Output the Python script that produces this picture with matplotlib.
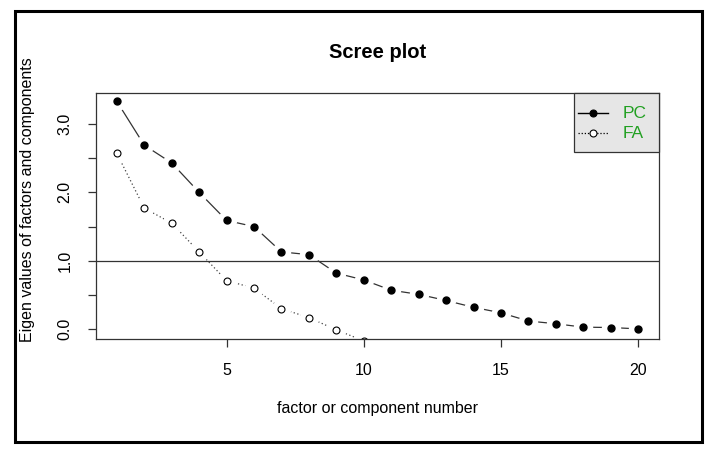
import matplotlib
matplotlib.use("Agg")
import matplotlib.pyplot as plt
from matplotlib.lines import Line2D
from matplotlib.patches import Rectangle
import numpy as np

plt.rcParams['font.family'] = ['Liberation Sans', 'DejaVu Sans']

# ---- data ----
pc_x = list(range(1, 21))
pc_values = [3.33, 2.69, 2.43, 2.00, 1.59, 1.50, 1.13, 1.09, 0.82, 0.72,
             0.57, 0.51, 0.42, 0.32, 0.24, 0.12, 0.08, 0.03, 0.025, 0.005]
fa_x = list(range(1, 11))
fa_values = [2.57, 1.77, 1.55, 1.13, 0.71, 0.60, 0.30, 0.17, -0.01, -0.17]
x_ticks = [5, 10, 15, 20]
y_ticks = [0.0, 0.5, 1.0, 1.5, 2.0, 2.5, 3.0]
y_ticklabels = ["0.0", "", "1.0", "", "2.0", "", "3.0"]
legend_labels = ["PC", "FA"]

W, H = 717, 454
fig = plt.figure(figsize=(W / 100, H / 100), dpi=100)
fig.patch.set_facecolor('white')

ax = fig.add_axes([96 / W, 1 - 339 / H, (659 - 96) / W, (339 - 93) / H])
ax.set_xlim(0.24, 20.76)
ax.set_ylim(-0.143, 3.453)

green = '#22a022'
gap_ms = 14  # white disc size to emulate R type="b" gaps

# PC: solid line with gaps
ax.plot(pc_x, pc_values, color='#333333', lw=0.9, zorder=2)
ax.plot(pc_x, pc_values, ls='none', marker='o', ms=gap_ms, mfc='white', mec='none', zorder=2.1)
# FA: dotted line with gaps
ax.plot(fa_x, fa_values, color='#444444', lw=0.9, ls=(0, (1, 2)), zorder=2)
ax.plot(fa_x, fa_values, ls='none', marker='o', ms=gap_ms, mfc='white', mec='none', zorder=2.1)

ax.axhline(1.0, color='#333333', lw=0.9, zorder=2.2)

ax.plot(pc_x, pc_values, ls='none', marker='o', ms=5, mfc='black', mec='black', zorder=2.3)
ax.plot(fa_x, fa_values, ls='none', marker='o', ms=5, mfc='white', mec='black', mew=0.8, zorder=2.3)

for s in ax.spines.values():
    s.set_color('#333333')
    s.set_linewidth(0.9)

ax.set_xticks(x_ticks)
ax.set_xticklabels([str(v) for v in x_ticks])
ax.set_yticks(y_ticks)
ax.set_yticklabels(y_ticklabels, rotation=90, va='center')
ax.tick_params(axis='both', length=6, width=0.9, color='#333333', labelsize=11.5, pad=11)

ax.set_xlabel("factor or component number", fontsize=11.5)
ax.xaxis.set_label_coords(0.5, (339 - 408) / 246)
ax.xaxis.label.set_va('center')
ax.set_ylabel("Eigen values of factors and components", fontsize=11.5)
ax.yaxis.set_label_coords((28 - 96) / 563, (339 - 200) / 246)
ax.yaxis.label.set_va('center')

fig.text(((96 + 659) / 2) / W, 1 - 53 / H, "Scree plot", ha='center', va='center',
         fontsize=14.5, fontweight='bold')

# ---- legend drawn R-style (topright) ----
def ax_x(px):
    return (px - 96) / 563

def ax_y(py):
    return (339 - py) / 246

box = Rectangle((ax_x(574), ax_y(152)), ax_x(659) - ax_x(574), ax_y(93) - ax_y(152),
                transform=ax.transAxes, facecolor='#e6e6e6', edgecolor='#333333',
                lw=0.9, zorder=5, clip_on=False)
ax.add_patch(box)
styles = [
    dict(ls='-', lw=1.0, mfc='black', mew=0.8),
    dict(ls=(0, (1, 1.5)), lw=0.9, mfc='white', mew=0.8),
]
rows_py = [113, 133]
for lab, st, py in zip(legend_labels, styles, rows_py):
    ax.add_line(Line2D([ax_x(578), ax_x(608)], [ax_y(py), ax_y(py)], color='black',
                       transform=ax.transAxes, ls=st['ls'], lw=st['lw'], zorder=6, clip_on=False))
    ax.add_line(Line2D([ax_x(593)], [ax_y(py)], color='black', marker='o', ms=5,
                       mfc=st['mfc'], mec='black', mew=st['mew'], ls='none',
                       transform=ax.transAxes, zorder=6.1, clip_on=False))
    ax.text(ax_x(623), ax_y(py + 1), lab, transform=ax.transAxes, color=green,
            fontsize=12.5, ha='left', va='center', zorder=6)

# outer border
fig.patches.append(Rectangle((15 / W, 1 - 442 / H), (702 - 15) / W, (442 - 11) / H,
                             transform=fig.transFigure, fill=False, edgecolor='black', lw=2.2))

fig.savefig("out.png", dpi=100)
